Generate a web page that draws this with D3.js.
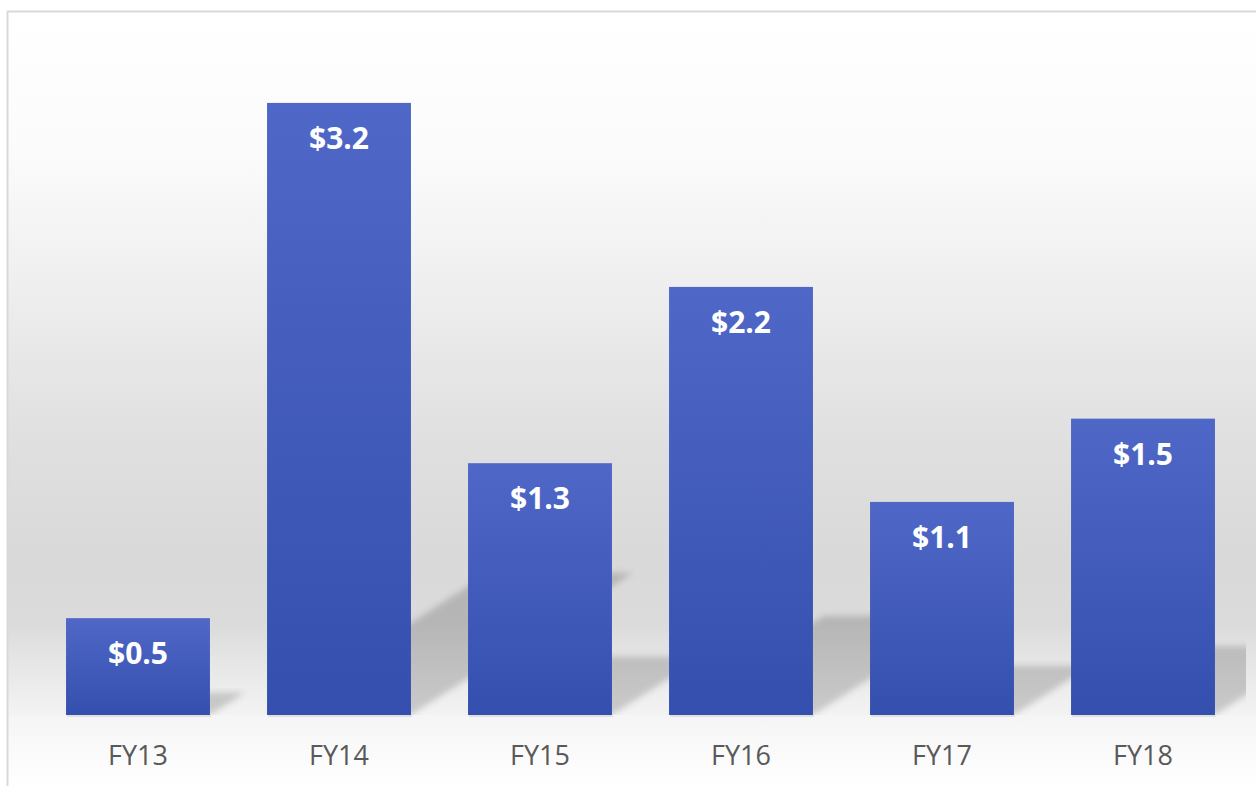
<!DOCTYPE html>
<html>
<head>
<meta charset="utf-8">
<script src="https://cdn.jsdelivr.net/npm/d3@7"></script>
<style>
  body { margin: 0; background: #fff; }
  svg { display: block; }
</style>
</head>
<body>
<svg id="chart"></svg>
<script>
const categories = ["FY13", "FY14", "FY15", "FY16", "FY17", "FY18"];
const values = [0.5, 3.16, 1.30, 2.21, 1.10, 1.53];

const w = 1256, h = 786;
const baseY = 715, plotTop = 12, plotRight = 1246;

const svg = d3.select("#chart")
  .attr("width", w)
  .attr("height", h);

const defs = svg.append("defs");

// wall gradient
let wall = defs.append("linearGradient")
  .attr("id", "wall")
  .attr("x1", 0).attr("y1", 0).attr("x2", 0).attr("y2", 1);
[[0, "#ffffff"], [0.2, "#fbfbfb"], [0.34, "#f2f2f2"], [0.48, "#e8e8e8"],
 [0.62, "#dfdfdf"], [0.78, "#d9d9d9"], [0.87, "#dbdbdb"], [0.92, "#e5e5e5"], [1, "#f3f3f3"]]
  .forEach(s => wall.append("stop").attr("offset", s[0]).attr("stop-color", s[1]));

let floor = defs.append("linearGradient")
  .attr("id", "floor")
  .attr("x1", 0).attr("y1", 0).attr("x2", 0).attr("y2", 1);
floor.append("stop").attr("offset", 0).attr("stop-color", "#f5f5f5");
floor.append("stop").attr("offset", 1).attr("stop-color", "#ffffff");

let barGrad = defs.append("linearGradient")
  .attr("id", "barGrad")
  .attr("x1", 0).attr("y1", 0).attr("x2", 0).attr("y2", 1);
barGrad.append("stop").attr("offset", 0).attr("stop-color", "#4f68c8");
barGrad.append("stop").attr("offset", 1).attr("stop-color", "#354fae");

defs.append("filter")
  .attr("id", "blur")
  .attr("x", "-20%").attr("y", "-20%").attr("width", "140%").attr("height", "140%")
  .append("feGaussianBlur").attr("stdDeviation", 3);

defs.append("clipPath").attr("id", "plotClip")
  .append("rect")
  .attr("x", 8).attr("y", plotTop)
  .attr("width", plotRight - 8).attr("height", baseY - plotTop);

// background
svg.append("rect")
  .attr("x", 8).attr("y", plotTop)
  .attr("width", w - 8).attr("height", baseY - plotTop)
  .attr("fill", "url(#wall)");
svg.append("rect")
  .attr("x", 8).attr("y", baseY)
  .attr("width", w - 8).attr("height", h - baseY)
  .attr("fill", "url(#floor)");

// frame
svg.append("path")
  .attr("d", `M7.5,${h} V11.5 H${w}`)
  .attr("fill", "none")
  .attr("stroke", "#d9d9d9")
  .attr("stroke-width", 2);

const x = d3.scaleBand()
  .domain(categories)
  .range([37.5, 1243.5])
  .paddingInner(0.284)
  .paddingOuter(0.142);

const y = d3.scaleLinear()
  .domain([0, 3.5])
  .range([baseY, baseY - 3.5 * 193.7]);

const data = categories.map((c, i) => ({ cat: c, value: values[i] }));

// perspective shadows
svg.append("g")
  .attr("clip-path", "url(#plotClip)")
  .selectAll("path")
  .data(data)
  .enter()
  .append("path")
  .attr("d", d => {
    let x0 = x(d.cat), x1 = x0 + x.bandwidth();
    let bh = y(0) - y(d.value);
    let sh = bh * 0.232, dx = sh * 1.56;
    return `M${x0},${y(0)} L${x1},${y(0)} L${x1 + dx},${y(0) - sh} L${x0 + dx},${y(0) - sh} Z`;
  })
  .attr("fill", "#000")
  .attr("fill-opacity", 0.17)
  .attr("filter", "url(#blur)");

// thin shadow under bars
svg.append("g")
  .selectAll("rect")
  .data(data)
  .enter()
  .append("rect")
  .attr("x", d => x(d.cat) + 1)
  .attr("y", y(0))
  .attr("width", x.bandwidth())
  .attr("height", 2)
  .attr("fill", "#e0e0e0");

// bars
svg.append("g")
  .selectAll("rect")
  .data(data)
  .enter()
  .append("rect")
  .attr("x", d => x(d.cat))
  .attr("y", d => y(d.value))
  .attr("width", x.bandwidth())
  .attr("height", d => y(0) - y(d.value))
  .attr("fill", "url(#barGrad)");

// value labels
const fmt = d3.format("$.1f");
svg.append("g")
  .selectAll("text")
  .data(data)
  .enter()
  .append("text")
  .attr("x", d => x(d.cat) + x.bandwidth() / 2)
  .attr("y", d => y(d.value) + 46)
  .attr("text-anchor", "middle")
  .attr("fill", "#ffffff")
  .style("font-family", "'Open Sans', sans-serif")
  .style("font-weight", "bold")
  .style("font-size", "30px")
  .text(d => fmt(d.value));

// category axis
let axis = svg.append("g")
  .attr("transform", `translate(0,${baseY})`)
  .call(d3.axisBottom(x).tickSize(0).tickPadding(31));
axis.select(".domain").remove();
axis.selectAll("text")
  .attr("fill", "#595959")
  .style("font-family", "'Open Sans', sans-serif")
  .style("font-size", "27px");
</script>
</body>
</html>
